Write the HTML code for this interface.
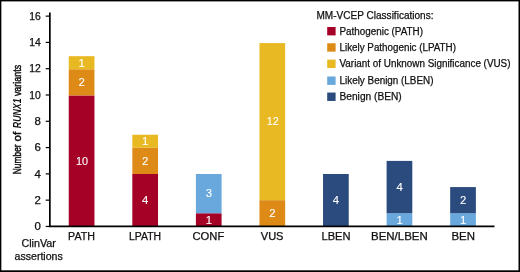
<!DOCTYPE html><html><head><meta charset="utf-8"><title>chart</title><style>html,body{margin:0;padding:0;background:#fff}svg{display:block}text{font-family:"Liberation Sans",Arial,sans-serif;fill:#111;font-size:10px;stroke:#111;stroke-width:0.25px}</style></head><body>
<svg width="520" height="272" viewBox="0 0 520 272">
<rect x="0" y="0" width="520" height="272" fill="#fff"/>
<rect x="0" y="0" width="520" height="1.4" fill="#000"/>
<rect x="0" y="0" width="1.35" height="272" fill="#000"/>
<rect x="518.5" y="0" width="1.5" height="272" fill="#000"/>
<rect x="0" y="270.3" width="520" height="1.7" fill="#000"/>
<rect x="68.75" y="95.45" width="25.70" height="130.90" fill="#A50026"/>
<text x="76.00" y="164.70" textLength="12.00" lengthAdjust="spacingAndGlyphs" style="fill:#fff;stroke:#fff;stroke-width:0.1px">10</text>
<rect x="68.75" y="69.27" width="25.70" height="26.18" fill="#DE8A17"/>
<text x="78.55" y="86.16" textLength="6.30" lengthAdjust="spacingAndGlyphs" style="fill:#fff;stroke:#fff;stroke-width:0.1px">2</text>
<rect x="68.75" y="56.18" width="25.70" height="13.09" fill="#E8B923"/>
<text x="78.55" y="66.52" textLength="6.30" lengthAdjust="spacingAndGlyphs" style="fill:#fff;stroke:#fff;stroke-width:0.1px">1</text>
<rect x="132.32" y="173.99" width="25.70" height="52.36" fill="#A50026"/>
<text x="142.12" y="203.97" textLength="6.30" lengthAdjust="spacingAndGlyphs" style="fill:#fff;stroke:#fff;stroke-width:0.1px">4</text>
<rect x="132.32" y="147.81" width="25.70" height="26.18" fill="#DE8A17"/>
<text x="142.12" y="164.70" textLength="6.30" lengthAdjust="spacingAndGlyphs" style="fill:#fff;stroke:#fff;stroke-width:0.1px">2</text>
<rect x="132.32" y="134.72" width="25.70" height="13.09" fill="#E8B923"/>
<text x="142.12" y="145.06" textLength="6.30" lengthAdjust="spacingAndGlyphs" style="fill:#fff;stroke:#fff;stroke-width:0.1px">1</text>
<rect x="195.89" y="213.26" width="25.70" height="13.09" fill="#A50026"/>
<text x="205.69" y="223.61" textLength="6.30" lengthAdjust="spacingAndGlyphs" style="fill:#fff;stroke:#fff;stroke-width:0.1px">1</text>
<rect x="195.89" y="173.99" width="25.70" height="39.27" fill="#69A8DC"/>
<text x="205.69" y="197.43" textLength="6.30" lengthAdjust="spacingAndGlyphs" style="fill:#fff;stroke:#fff;stroke-width:0.1px">3</text>
<rect x="259.46" y="200.17" width="25.70" height="26.18" fill="#DE8A17"/>
<text x="269.26" y="217.06" textLength="6.30" lengthAdjust="spacingAndGlyphs" style="fill:#fff;stroke:#fff;stroke-width:0.1px">2</text>
<rect x="259.46" y="43.09" width="25.70" height="157.08" fill="#E8B923"/>
<text x="266.71" y="125.43" textLength="12.00" lengthAdjust="spacingAndGlyphs" style="fill:#fff;stroke:#fff;stroke-width:0.1px">12</text>
<rect x="323.03" y="173.99" width="25.70" height="52.36" fill="#2B4A7D"/>
<text x="332.83" y="203.97" textLength="6.30" lengthAdjust="spacingAndGlyphs" style="fill:#fff;stroke:#fff;stroke-width:0.1px">4</text>
<rect x="386.60" y="213.26" width="25.70" height="13.09" fill="#69A8DC"/>
<text x="396.40" y="223.61" textLength="6.30" lengthAdjust="spacingAndGlyphs" style="fill:#fff;stroke:#fff;stroke-width:0.1px">1</text>
<rect x="386.60" y="160.90" width="25.70" height="52.36" fill="#2B4A7D"/>
<text x="396.40" y="190.88" textLength="6.30" lengthAdjust="spacingAndGlyphs" style="fill:#fff;stroke:#fff;stroke-width:0.1px">4</text>
<rect x="450.17" y="213.26" width="25.70" height="13.09" fill="#69A8DC"/>
<text x="459.97" y="223.61" textLength="6.30" lengthAdjust="spacingAndGlyphs" style="fill:#fff;stroke:#fff;stroke-width:0.1px">1</text>
<rect x="450.17" y="187.08" width="25.70" height="26.18" fill="#2B4A7D"/>
<text x="459.97" y="203.97" textLength="6.30" lengthAdjust="spacingAndGlyphs" style="fill:#fff;stroke:#fff;stroke-width:0.1px">2</text>
<path d="M49.85 12.4 V226.3 H494.5" fill="none" stroke="#000" stroke-width="1.7"/>
<path d="M45.7 226.45 H50" stroke="#000" stroke-width="1.2"/>
<text x="34.50" y="230.20" textLength="6.35" lengthAdjust="spacingAndGlyphs">0</text>
<path d="M45.7 200.16 H50" stroke="#000" stroke-width="1.2"/>
<text x="34.50" y="203.91" textLength="6.35" lengthAdjust="spacingAndGlyphs">2</text>
<path d="M45.7 173.87 H50" stroke="#000" stroke-width="1.2"/>
<text x="34.50" y="177.62" textLength="6.35" lengthAdjust="spacingAndGlyphs">4</text>
<path d="M45.7 147.58 H50" stroke="#000" stroke-width="1.2"/>
<text x="34.50" y="151.33" textLength="6.35" lengthAdjust="spacingAndGlyphs">6</text>
<path d="M45.7 121.29 H50" stroke="#000" stroke-width="1.2"/>
<text x="34.50" y="125.04" textLength="6.35" lengthAdjust="spacingAndGlyphs">8</text>
<path d="M45.7 95.00 H50" stroke="#000" stroke-width="1.2"/>
<text x="29.30" y="98.75" textLength="11.55" lengthAdjust="spacingAndGlyphs">10</text>
<path d="M45.7 68.71 H50" stroke="#000" stroke-width="1.2"/>
<text x="29.30" y="72.46" textLength="11.55" lengthAdjust="spacingAndGlyphs">12</text>
<path d="M45.7 42.42 H50" stroke="#000" stroke-width="1.2"/>
<text x="29.30" y="46.17" textLength="11.55" lengthAdjust="spacingAndGlyphs">14</text>
<path d="M45.7 16.13 H50" stroke="#000" stroke-width="1.2"/>
<text x="29.30" y="19.88" textLength="11.55" lengthAdjust="spacingAndGlyphs">16</text>
<text x="68.10" y="239.70" textLength="26.90" lengthAdjust="spacingAndGlyphs">PATH</text>
<text x="129.00" y="239.70" textLength="32.00" lengthAdjust="spacingAndGlyphs">LPATH</text>
<text x="192.50" y="239.70" textLength="31.75" lengthAdjust="spacingAndGlyphs">CONF</text>
<text x="260.75" y="239.70" textLength="22.75" lengthAdjust="spacingAndGlyphs">VUS</text>
<text x="321.50" y="239.70" textLength="29.00" lengthAdjust="spacingAndGlyphs">LBEN</text>
<text x="371.10" y="239.70" textLength="56.60" lengthAdjust="spacingAndGlyphs">BEN/LBEN</text>
<text x="451.50" y="239.70" textLength="23.50" lengthAdjust="spacingAndGlyphs">BEN</text>
<text x="21.40" y="247.00" textLength="34.50" lengthAdjust="spacingAndGlyphs">ClinVar</text>
<text x="14.50" y="259.50" textLength="48.30" lengthAdjust="spacingAndGlyphs">assertions</text>
<text transform="translate(20.8,174.20) rotate(-90)" textLength="29.80" lengthAdjust="spacingAndGlyphs" style="font-size:10.4px;stroke-width:0.5px">Number</text>
<text transform="translate(20.8,141.40) rotate(-90)" textLength="9.50" lengthAdjust="spacingAndGlyphs" style="font-size:10.4px;stroke-width:0.5px">of</text>
<text transform="translate(20.8,128.20) rotate(-90)" textLength="29.80" lengthAdjust="spacingAndGlyphs" style="font-size:10.4px;font-style:italic;font-weight:bold;stroke-width:0px">RUNX1</text>
<text transform="translate(20.8,96.10) rotate(-90)" textLength="31.20" lengthAdjust="spacingAndGlyphs" style="font-size:10.4px;stroke-width:0.5px">variants</text>
<text x="316.50" y="18.50" textLength="117.00" lengthAdjust="spacingAndGlyphs">MM-VCEP Classifications:</text>
<rect x="327.2" y="27.00" width="8.4" height="8.4" fill="#A50026"/>
<text x="339.50" y="34.50" textLength="83.50" lengthAdjust="spacingAndGlyphs">Pathogenic (PATH)</text>
<rect x="327.2" y="43.25" width="8.4" height="8.4" fill="#DE8A17"/>
<text x="339.50" y="50.75" textLength="116.50" lengthAdjust="spacingAndGlyphs">Likely Pathogenic (LPATH)</text>
<rect x="327.2" y="59.65" width="8.4" height="8.4" fill="#E8B923"/>
<text x="339.50" y="67.15" textLength="171.00" lengthAdjust="spacingAndGlyphs">Variant of Unknown Significance (VUS)</text>
<rect x="327.2" y="76.50" width="8.4" height="8.4" fill="#69A8DC"/>
<text x="339.50" y="84.00" textLength="94.00" lengthAdjust="spacingAndGlyphs">Likely Benign (LBEN)</text>
<rect x="327.2" y="92.55" width="8.4" height="8.4" fill="#2B4A7D"/>
<text x="339.50" y="100.05" textLength="62.25" lengthAdjust="spacingAndGlyphs">Benign (BEN)</text>
</svg></body></html>
